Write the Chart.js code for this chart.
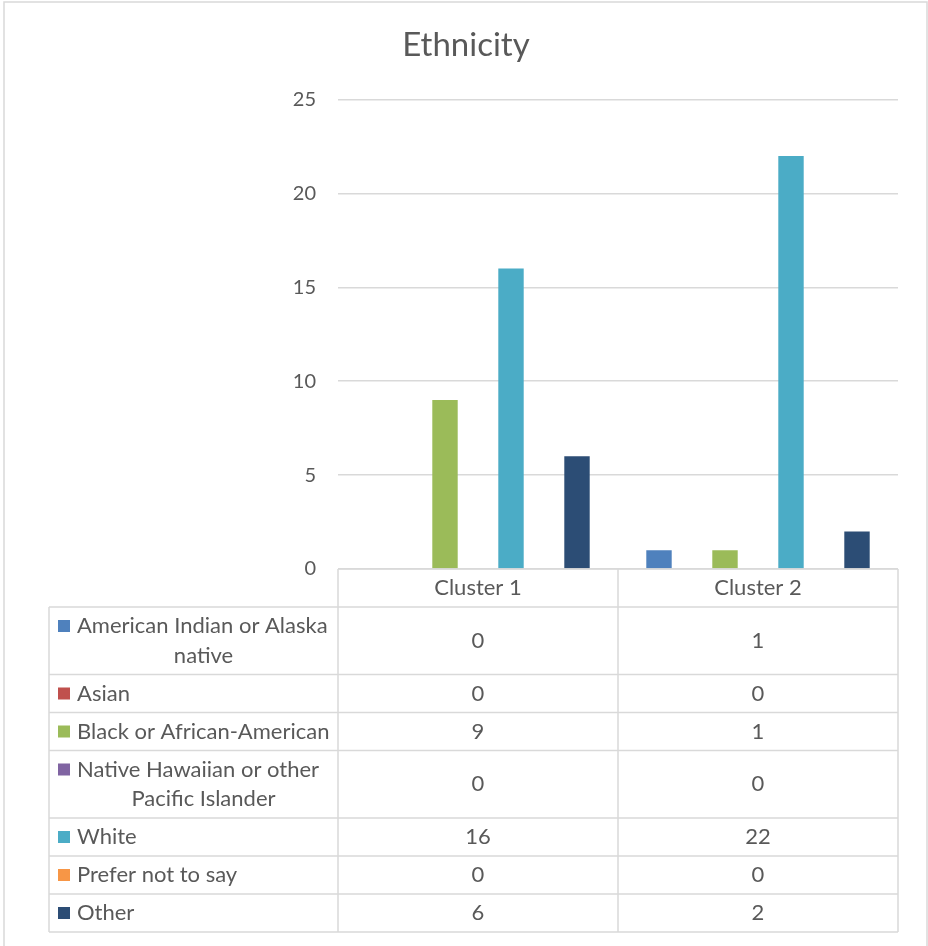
<!DOCTYPE html>
<html>
<head>
<meta charset="utf-8">
<title>Ethnicity</title>
<script src="https://cdn.jsdelivr.net/npm/chart.js@4.4.1/dist/chart.umd.min.js"></script>
<style>
  html, body { margin: 0; padding: 0; background: #fff; }
  #wrap { width: 928px; height: 946px; }
</style>
</head>
<body>
<div id="wrap"><canvas id="ethnicityChart"></canvas></div>
<script>
// --- Data ---
const clusters = ['Cluster 1', 'Cluster 2'];
const groups = [
    'American Indian or Alaska native',
    'Asian',
    'Black or African-American',
    'Native Hawaiian or other Pacific Islander',
    'White',
    'Prefer not to say',
    'Other'
];
const americanIndian = [0, 1];
const asian = [0, 0];
const black = [9, 1];
const nativeHawaiian = [0, 0];
const white = [16, 22];
const preferNot = [0, 0];
const other = [6, 2];
const yTicks = [0, 5, 10, 15, 20, 25];

// Office palette, one colour per group
const colors = ['#4F81BD', '#C0504D', '#9BBB59', '#8064A2', '#4BACC6', '#F79646', '#2C4D75'];
const seriesValues = [americanIndian, asian, black, nativeHawaiian, white, preferNot, other];

const FONT = 'Lato, "Open Sans", sans-serif';
const TEXT = '#595959';
const LINE = '#d9d9d9';

// --- Frame round the whole chart ---
const frame = {
    id: 'frame',
    beforeDraw(chart) {
        const ctx = chart.ctx;
        ctx.save();
        ctx.fillStyle = '#fff';
        ctx.fillRect(0, 0, chart.width, chart.height);
        ctx.strokeStyle = LINE;
        ctx.lineWidth = 1.5;
        ctx.strokeRect(4, 2, chart.width - 5, chart.height + 10);
        ctx.restore();
    }
};

// split a label into lines that fit the legend column
function wrapText(ctx, text, maxW) {
    const words = text.split(' ');
    const lines = [];
    let line = '';
    words.forEach(w => {
        const test = line ? line + ' ' + w : w;
        if (ctx.measureText(test).width > maxW && line) {
            lines.push(line);
            line = w;
        } else {
            line = test;
        }
    });
    lines.push(line);
    return lines;
}

// --- Data table under the plot, Excel style ---
const dataTable = {
    id: 'dataTable',
    afterDraw(chart) {
        const { ctx, chartArea, scales } = chart;
        const xs = scales.x;
        const catW = (chartArea.right - chartArea.left) / clusters.length;
        const tableLeft = 49;
        const headerH = 38;
        const rowH = 38;
        const lineH = 29.5;
        const keyX = 58, textX = 77;
        const top = chartArea.bottom;

        ctx.save();
        ctx.font = '22px ' + FONT;
        ctx.textBaseline = 'middle';

        // work out row heights first
        const wrapped = groups.map(g => wrapText(ctx, g, chartArea.left - textX - 4));
        const heights = wrapped.map(l => rowH + (l.length - 1) * lineH);
        const bottom = top + headerH + heights.reduce((a, b) => a + b, 0);

        ctx.strokeStyle = LINE;
        ctx.lineWidth = 1.5;
        ctx.beginPath();
        // header top + verticals
        ctx.moveTo(chartArea.left, top);
        ctx.lineTo(chartArea.right, top);
        for (let i = 0; i <= clusters.length; i++) {
            const x = chartArea.left + i * catW;
            ctx.moveTo(x, top);
            ctx.lineTo(x, bottom);
        }
        ctx.moveTo(tableLeft, top + headerH);
        ctx.lineTo(tableLeft, bottom);
        let y = top + headerH;
        ctx.moveTo(tableLeft, y);
        ctx.lineTo(chartArea.right, y);
        heights.forEach(h => {
            y += h;
            ctx.moveTo(tableLeft, y);
            ctx.lineTo(chartArea.right, y);
        });
        ctx.stroke();

        // header labels
        ctx.fillStyle = TEXT;
        ctx.textAlign = 'center';
        clusters.forEach((c, i) => {
            ctx.fillText(c, xs.getPixelForValue(i), top + headerH / 2);
        });

        // group rows
        y = top + headerH;
        groups.forEach((g, r) => {
            const h = heights[r];
            const lines = wrapped[r];
            const mid = y + h / 2;
            const firstY = mid - (lines.length - 1) * lineH / 2;

            ctx.fillStyle = colors[r];
            ctx.fillRect(keyX, firstY - 6, 12, 12);

            ctx.fillStyle = TEXT;
            ctx.textAlign = 'left';
            ctx.fillText(lines[0], textX, firstY);
            ctx.textAlign = 'center';
            for (let k = 1; k < lines.length; k++) {
                ctx.fillText(lines[k], (textX + chartArea.left - 8) / 2, firstY + k * lineH);
            }

            seriesValues[r].forEach((v, i) => {
                ctx.fillText(String(v), xs.getPixelForValue(i), mid);
            });
            y += h;
        });
        ctx.restore();
    }
};

const ctx = document.getElementById('ethnicityChart').getContext('2d');
new Chart(ctx, {
    type: 'bar',
    data: {
        labels: clusters,
        datasets: groups.map((g, i) => ({
            label: g,
            data: seriesValues[i],
            backgroundColor: colors[i],
            borderWidth: 0,
            categoryPercentage: 0.825,
            barPercentage: 0.77
        }))
    },
    options: {
        responsive: true,
        maintainAspectRatio: false,
        animation: false,
        layout: { padding: { left: 34, right: 30, top: 0, bottom: 377 } },
        plugins: {
            legend: { display: false },
            tooltip: { enabled: false },
            title: {
                display: true,
                text: 'Ethnicity',
                color: TEXT,
                font: { family: FONT, size: 33, weight: 'normal' },
                padding: { top: 26, bottom: 34 }
            }
        },
        scales: {
            x: { display: false },
            y: {
                min: 0,
                max: 25,
                afterBuildTicks: s => { s.ticks = yTicks.map(v => ({ value: v })); },
                afterFit: s => { s.width = 304; },
                border: { display: false },
                grid: { color: LINE, lineWidth: 1.5, drawTicks: false },
                ticks: {
                    color: TEXT,
                    padding: 22,
                    font: { family: FONT, size: 20 }
                }
            }
        }
    },
    plugins: [frame, dataTable]
});
</script>
</body>
</html>
